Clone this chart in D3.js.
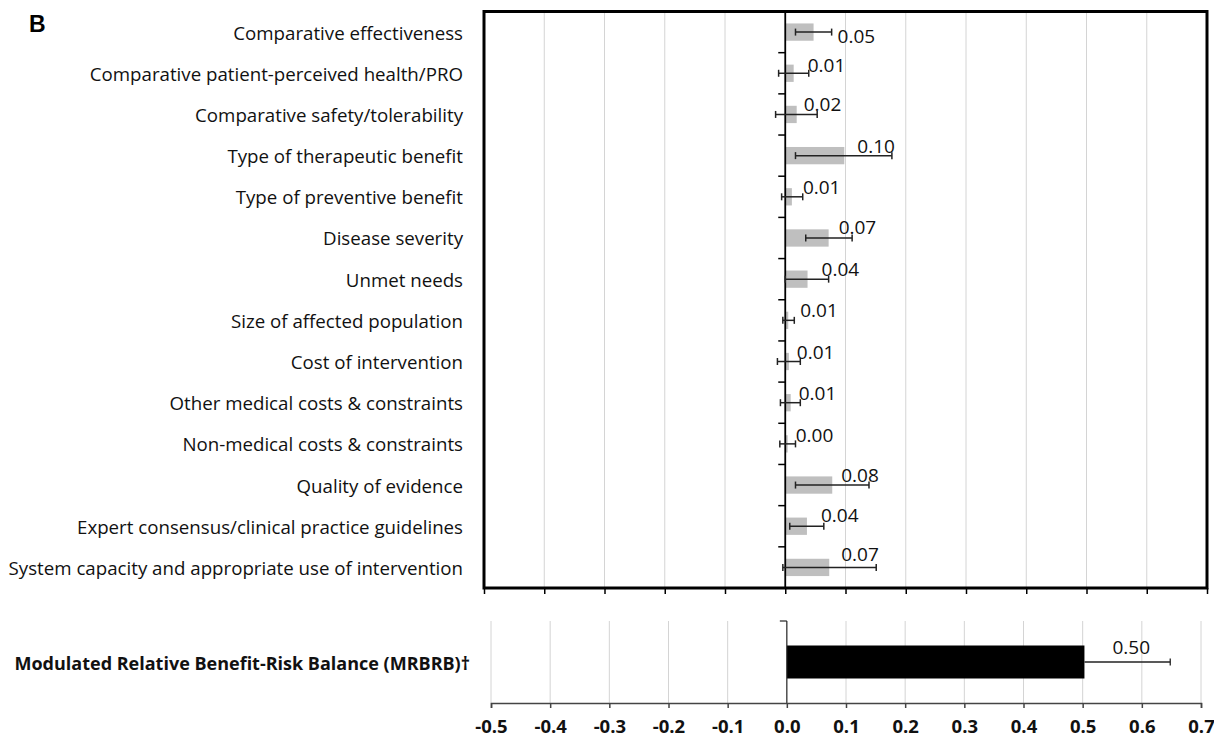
<!DOCTYPE html>
<html>
<head>
<meta charset="utf-8">
<script src="https://cdn.jsdelivr.net/npm/d3@7"></script>
<style>
  html, body { margin: 0; padding: 0; background: #fff; }
  svg { display: block; }
</style>
</head>
<body>
<svg id="chart" width="1214" height="739"></svg>
<script>
// Criteria contributions (mean with confidence limits)
const categories = [
  "Comparative effectiveness",
  "Comparative patient-perceived health/PRO",
  "Comparative safety/tolerability",
  "Type of therapeutic benefit",
  "Type of preventive benefit",
  "Disease severity",
  "Unmet needs",
  "Size of affected population",
  "Cost of intervention",
  "Other medical costs & constraints",
  "Non-medical costs & constraints",
  "Quality of evidence",
  "Expert consensus/clinical practice guidelines",
  "System capacity and appropriate use of intervention"
];
const means = [0.047, 0.014, 0.019, 0.098, 0.011, 0.072, 0.037, 0.005, 0.006, 0.009, 0.004, 0.078, 0.036, 0.073];
const lower = [0.017, -0.011, -0.016, 0.017, -0.006, 0.034, 0.000, -0.004, -0.013, -0.008, -0.009, 0.017, 0.0075, -0.004];
const upper = [0.077, 0.039, 0.053, 0.177, 0.029, 0.111, 0.072, 0.015, 0.025, 0.025, 0.017, 0.139, 0.064, 0.151];

// Overall score
const totalLabel = "Modulated Relative Benefit-Risk Balance (MRBRB)\u2020";
const totalMean = 0.503;
const totalUpper = 0.648;

// Axis ticks
const tickValues = [-0.5, -0.4, -0.3, -0.2, -0.1, 0.0, 0.1, 0.2, 0.3, 0.4, 0.5, 0.6, 0.7];

// Hand placement of value labels (px, relative to bar end / bar centre)
const labelDx = [24, 14, 7, 13, 11, 10, 14, 12, 8, 8, 8, 9, 14, 12];
const labelDy = [4, -8, -10, -10, -10, -11, -10, -10, -10, -10, -9, -10, -11, -13];

const fmt = d3.format(".2f");
const tickFmt = d => d3.format(".1f")(d).replace("\u2212", "-");
const svg = d3.select("#chart");
const FONT = "'Open Sans', Lato, sans-serif";

// ---------- Top panel ----------
const panelA = { x0: 484, x1: 1207, y0: 11.5, y1: 588 };
const x1 = d3.scaleLinear().domain([-0.5, 0.7]).range([panelA.x0, panelA.x1]);
const y1 = d3.scaleBand().domain(categories).range([panelA.y0, panelA.y1]).padding(0);
const barH = y1.bandwidth() * 0.42;

// gridlines
svg.append("g").selectAll("line").data(tickValues.filter(t => t !== 0 && t > -0.5 && t < 0.7))
  .join("line")
  .attr("x1", d => x1(d)).attr("x2", d => x1(d))
  .attr("y1", panelA.y0).attr("y2", panelA.y1)
  .attr("stroke", "#d4d4d4").attr("stroke-width", 1);

// bars
svg.append("g").selectAll("rect").data(categories)
  .join("rect")
  .attr("x", (d, i) => Math.min(x1(0), x1(means[i])))
  .attr("width", (d, i) => Math.abs(x1(means[i]) - x1(0)))
  .attr("y", d => y1(d) + (y1.bandwidth() - barH) / 2)
  .attr("height", barH)
  .attr("fill", "#bfbfbf");

// zero axis with category ticks
svg.append("line")
  .attr("x1", x1(0)).attr("x2", x1(0))
  .attr("y1", panelA.y0).attr("y2", panelA.y1)
  .attr("stroke", "#000").attr("stroke-width", 1.8);
svg.append("g").selectAll("line").data(categories.slice(1))
  .join("line")
  .attr("x1", x1(0) - 7).attr("x2", x1(0))
  .attr("y1", d => y1(d)).attr("y2", d => y1(d))
  .attr("stroke", "#000").attr("stroke-width", 1.5);

// error bars
const eb = svg.append("g").attr("stroke", "#222").attr("stroke-width", 1.5);
categories.forEach((c, i) => {
  const cy = y1(c) + y1.bandwidth() / 2;
  eb.append("line").attr("x1", x1(lower[i])).attr("x2", x1(upper[i])).attr("y1", cy).attr("y2", cy);
  eb.append("line").attr("x1", x1(lower[i])).attr("x2", x1(lower[i])).attr("y1", cy - 3.5).attr("y2", cy + 3.5);
  eb.append("line").attr("x1", x1(upper[i])).attr("x2", x1(upper[i])).attr("y1", cy - 3.5).attr("y2", cy + 3.5);
});

// value labels
svg.append("g").selectAll("text").data(categories)
  .join("text")
  .attr("x", (d, i) => x1(means[i]) + labelDx[i])
  .attr("y", (d, i) => y1(d) + y1.bandwidth() / 2 + labelDy[i])
  .attr("dominant-baseline", "central")
  .attr("font-family", FONT).attr("font-size", 19).attr("fill", "#111")
  .text((d, i) => fmt(means[i]));

// category labels
svg.append("g").selectAll("text").data(categories)
  .join("text")
  .attr("x", 463)
  .attr("y", d => y1(d) + y1.bandwidth() / 2)
  .attr("text-anchor", "end").attr("dominant-baseline", "central")
  .attr("font-family", FONT).attr("font-size", 18.7).attr("fill", "#111")
  .text(d => d);

// frame
svg.append("rect")
  .attr("x", panelA.x0).attr("y", panelA.y0)
  .attr("width", panelA.x1 - panelA.x0).attr("height", panelA.y1 - panelA.y0)
  .attr("fill", "none").attr("stroke", "#000").attr("stroke-width", 3);

// bottom ticks of top panel
const axTop = svg.append("g").attr("transform", `translate(0,${panelA.y1})`)
  .call(d3.axisBottom(x1).tickValues(tickValues).tickSize(6).tickFormat(""));
axTop.select(".domain").remove();
axTop.selectAll(".tick line").attr("stroke", "#000").attr("stroke-width", 1.5);

// panel letter
svg.append("text")
  .attr("x", 29).attr("y", 32)
  .attr("font-family", "'Liberation Sans', Arial, sans-serif")
  .attr("font-weight", "bold").attr("font-size", 23)
  .text("B");

// ---------- Bottom panel ----------
const panelB = { x0: 491, x1: 1201, y0: 621, y1: 703 };
const x2 = d3.scaleLinear().domain([-0.5, 0.7]).range([panelB.x0, panelB.x1]);
const y2 = d3.scaleBand().domain([totalLabel]).range([panelB.y0, panelB.y1]).padding(0);
const barH2 = 33;
const cy2 = y2(totalLabel) + y2.bandwidth() / 2;

svg.append("g").selectAll("line").data(tickValues.filter(t => t !== 0))
  .join("line")
  .attr("x1", d => x2(d)).attr("x2", d => x2(d))
  .attr("y1", panelB.y0).attr("y2", panelB.y1)
  .attr("stroke", "#d4d4d4").attr("stroke-width", 1);

svg.append("rect")
  .attr("x", x2(0)).attr("width", x2(totalMean) - x2(0))
  .attr("y", cy2 - barH2 / 2).attr("height", barH2)
  .attr("fill", "#000");

svg.append("line")
  .attr("x1", x2(0)).attr("x2", x2(0)).attr("y1", panelB.y0).attr("y2", panelB.y1)
  .attr("stroke", "#222").attr("stroke-width", 1.2);
svg.append("line")
  .attr("x1", x2(0) - 7).attr("x2", x2(0)).attr("y1", panelB.y0).attr("y2", panelB.y0)
  .attr("stroke", "#222").attr("stroke-width", 1.2);

const eb2 = svg.append("g").attr("stroke", "#222").attr("stroke-width", 1.3);
eb2.append("line").attr("x1", x2(totalMean)).attr("x2", x2(totalUpper)).attr("y1", cy2).attr("y2", cy2);
eb2.append("line").attr("x1", x2(totalUpper)).attr("x2", x2(totalUpper)).attr("y1", cy2 - 3.5).attr("y2", cy2 + 3.5);

svg.append("text")
  .attr("x", x2(totalMean) + 28).attr("y", cy2 - 15)
  .attr("dominant-baseline", "central")
  .attr("font-family", FONT).attr("font-size", 19).attr("fill", "#111")
  .text(fmt(totalMean));

svg.append("text")
  .attr("x", 470).attr("y", cy2 + 1)
  .attr("text-anchor", "end").attr("dominant-baseline", "central")
  .attr("font-family", FONT).attr("font-weight", "bold").attr("font-size", 18).attr("fill", "#111")
  .text(totalLabel);

const axBot = svg.append("g").attr("transform", `translate(0,${panelB.y1})`)
  .call(d3.axisBottom(x2).tickValues(tickValues).tickSize(5).tickPadding(12).tickFormat(tickFmt));
axBot.select(".domain").attr("stroke", "#444").attr("stroke-width", 1.5);
axBot.selectAll(".tick line").attr("stroke", "#444").attr("stroke-width", 1.5);
axBot.selectAll(".tick text")
  .attr("font-family", FONT).attr("font-weight", "bold").attr("font-size", 18.5).attr("fill", "#111");
</script>
</body>
</html>
